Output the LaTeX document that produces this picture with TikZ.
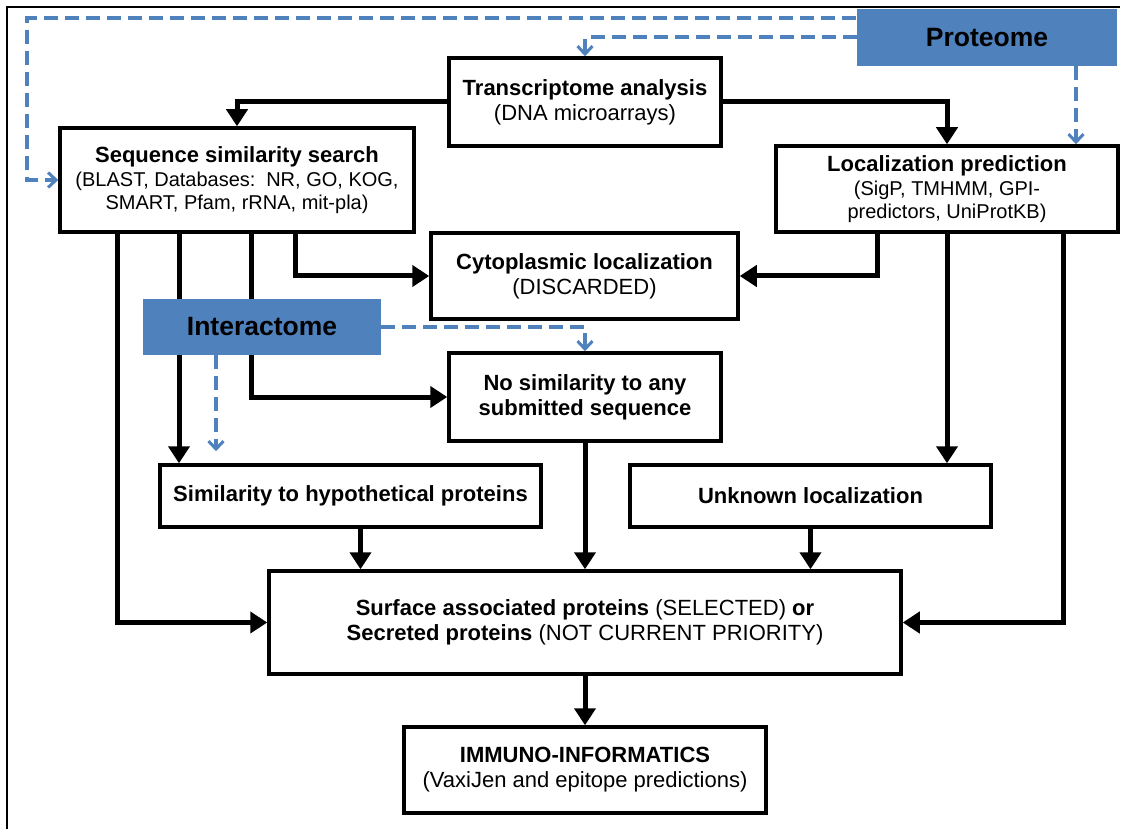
\documentclass[tikz,border=0pt]{standalone}
\usepackage{fontspec}
\setmainfont{Liberation Sans}
\usetikzlibrary{arrows.meta}
\definecolor{office}{HTML}{4F81BD}
\pgfdeclarelayer{back}
\pgfsetlayers{back,main}
\newcommand\smallnote{\fontsize{20}{23}\selectfont}

\begin{document}
\begin{tikzpicture}[x=1pt,y=-1pt,
  box/.style={draw, line width=3.5pt, fill=white, align=center, inner sep=2pt,
    font=\fontsize{22}{25}\selectfont},
  tag/.style={fill=office, align=center, inner sep=0pt,
    font=\fontsize{26.5}{30}\selectfont\bfseries},
  flow/.style={line width=5pt, -{Triangle[width=21pt,length=17pt]}},
  feed/.style={draw=office, line width=4pt, dash pattern=on 14pt off 7pt,
    -{Straight Barb[width=15pt,length=8pt,line width=3pt]}}
]
\useasboundingbox (0,0) rectangle (1125,829);

% outer frame (top and left edges only)
\draw[line width=2pt] (7,829) -- (7,7) -- (1120,7);

% boxes
\node[box, minimum width=272pt, minimum height=88pt] (trans) at (585,102)
  {\textbf{Transcriptome analysis}\\(DNA microarrays)};
\node[box, minimum width=354pt, minimum height=104pt] (seq) at (237,180)
  {\textbf{Sequence similarity search}\\[-1pt]{\smallnote(BLAST, Databases:\, NR, GO, KOG,}\\[-2pt]{\smallnote SMART, Pfam, rRNA, mit-pla)}};
\node[box, minimum width=342pt, minimum height=86pt] (loc) at (947,189)
  {\textbf{Localization prediction}\\[-1pt]{\smallnote(SigP, TMHMM, GPI-}\\[-2pt]{\smallnote predictors, UniProtKB)}};
\node[box, minimum width=307pt, minimum height=86pt] (cyto) at (584.5,276)
  {\textbf{Cytoplasmic localization}\\(DISCARDED)};
\node[box, minimum width=272pt, minimum height=88pt] (nosim) at (585,397)
  {\textbf{No similarity to any}\\\textbf{submitted sequence}};
\node[box, minimum width=381pt, minimum height=62pt] (hyp) at (350.5,496)
  {\textbf{Similarity to hypothetical proteins}};
\node[box, minimum width=361pt, minimum height=62pt] (unk) at (810.5,496)
  {\textbf{Unknown localization}};
\node[box, minimum width=632pt, minimum height=103pt] (surf) at (585,622.5)
  {\textbf{Surface associated proteins} (SELECTED) \textbf{or}\\\textbf{Secreted proteins} (NOT CURRENT PRIORITY)};
\node[box, minimum width=362pt, minimum height=86pt] (imm) at (585,770)
  {\textbf{IMMUNO-INFORMATICS}\\(VaxiJen and epitope predictions)};

% data sources
\node[tag, minimum width=260pt, minimum height=57pt] (prot) at (987,37.5) {Proteome};
\node[tag, minimum width=238pt, minimum height=56pt] (inter) at (262,327) {Interactome};

% main flow
\begin{pgfonlayer}{back}
\draw[flow] (trans.west) -| (seq.north);
\draw[flow] (trans.east) -| (loc.north);
\draw[flow] ([xshift=-120pt]seq.south) |- (surf.west);
\draw[flow] ([xshift=-58pt]seq.south) -- ([xshift=-58pt]seq.south |- hyp.north);
\draw[flow] ([xshift=14pt]seq.south) |- (nosim.west);
\draw[flow] ([xshift=58pt]seq.south) |- (cyto.west);
\draw[flow] ([xshift=-70pt]loc.south) |- (cyto.east);
\draw[flow] (loc.south) -- (loc.south |- unk.north);
\draw[flow] ([xshift=116pt]loc.south) |- (surf.east);
\draw[flow] (nosim.south) -- (nosim.south |- surf.north);
\draw[flow] ([xshift=10pt]hyp.south) -- ([xshift=10pt]hyp.south |- surf.north);
\draw[flow] (unk.south) -- (unk.south |- surf.north);
\draw[flow] (surf.south) -- (surf.south |- imm.north);
\end{pgfonlayer}

% dashed feeds from the data sources
\coordinate (corner) at (27,18.5);
\draw[feed] ([xshift=20pt,yshift=19pt]prot.west) -- (corner) |- (seq.west);
\draw[feed] (prot.west) -| (trans.north);
\draw[feed] ([xshift=89pt]prot.south) -- ([xshift=89pt]prot.south |- loc.north);
\draw[feed] (inter.east) -| (nosim.north);
\coordinate (hypfeed) at ([xshift=-46pt]inter.south |- hyp.north);
\draw[feed] ([xshift=-46pt]inter.south) -- ([yshift=12pt]hypfeed);
\end{tikzpicture}
\end{document}
